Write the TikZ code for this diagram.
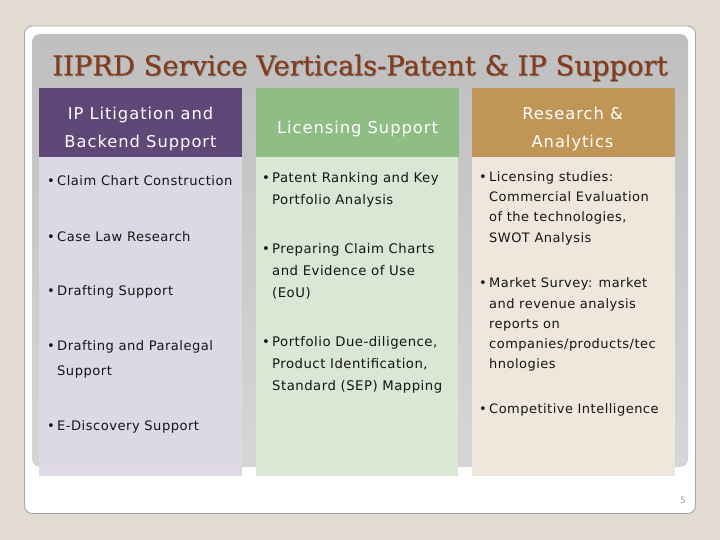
\documentclass[tikz,border=0pt]{standalone}
\usepackage{fontspec}
\setmainfont{DejaVu Sans}
\newfontfamily\titlefont[FakeBold=0.15]{DejaVu Serif}
\newfontfamily\headfont[LetterSpace=6]{DejaVu Sans}
\newfontfamily\itemfont[LetterSpace=3.7]{DejaVu Sans}
\definecolor{bgc}{HTML}{E3DCD2}
\definecolor{cardline}{HTML}{A5A5A0}
\definecolor{paneltop}{HTML}{BFBFBF}
\definecolor{panelbot}{HTML}{D6D6D6}
\definecolor{purpH}{HTML}{5F4778}
\definecolor{purpB}{HTML}{DDD8E6}
\definecolor{purpC}{HTML}{DFD9E7}
\definecolor{greenH}{HTML}{8EBE84}
\definecolor{greenB}{HTML}{D9E7D5}
\definecolor{greenC}{HTML}{DAE8D6}
\definecolor{brownH}{HTML}{C09555}
\definecolor{brownB}{HTML}{EFE6DC}
\definecolor{brownC}{HTML}{F0E7DD}
\definecolor{titlec}{HTML}{843C1C}
\definecolor{titles}{HTML}{8F8F8F}
\definecolor{textc}{HTML}{151515}
\newcommand{\bul}{\makebox[10pt][l]{•}}
\tikzset{
  x=1pt,y=-1pt,
  headtxt/.style={text=white,font=\headfont\fontsize{16.3}{18}\selectfont,inner sep=0,text height=15,text depth=3,anchor=center},
  item/.style={text=textc,font=\itemfont\fontsize{13}{15}\selectfont,inner sep=0,text height=13,text depth=3,anchor=west},
  itema/.style={item,font=\itemfont\fontsize{13.1}{15}\selectfont},
  itemb/.style={item,font=\itemfont\fontsize{13.25}{15}\selectfont},
  titletxt/.style={font=\titlefont\fontsize{27.4}{30}\selectfont,inner sep=0,text height=24,text depth=5.4,anchor=center}
}
\begin{document}
\begin{tikzpicture}
\useasboundingbox (0,0) rectangle (720,540);
\fill[bgc] (0,0) rectangle (720,540);
\draw[cardline,fill=white,rounded corners=8,line width=0.8] (24.5,26) rectangle (695.5,513.5);
\shade[top color=paneltop,bottom color=panelbot,rounded corners=8] (32,34) rectangle (688,467);
% columns
\fill[purpC] (39,467) rectangle (242,476);
\fill[greenC] (256,467) rectangle (458,476);
\fill[brownC] (472,467) rectangle (675,476);
\fill[purpB] (39,157) rectangle (242,467);
\fill[greenB] (256,157) rectangle (458,467);
\fill[brownB] (472,157) rectangle (675,467);
\fill[purpH] (39,88) rectangle (242,157);
\fill[greenH] (256,88) rectangle (459,157);
\fill[brownH] (472,88) rectangle (675,157);
% title
\node[titletxt,text=titles] (titleshadow) at (360.8,66.8) {IIPRD Service Verticals-Patent \& IP Support};
\node[titletxt,text=titlec] (title) at (360,66) {IIPRD Service Verticals-Patent \& IP Support};
% headers
\node[headtxt] (h1a) at (140.5,114) {IP Litigation and};
\node[headtxt] (h1b) at (140.5,142) {Backend Support};
\node[headtxt] (h2) at (357.5,128) {Licensing Support};
\node[headtxt] (h3a) at (572.5,114) {Research \&};
\node[headtxt] (h3b) at (572.5,142) {Analytics};
% column 1
\node[itema] (a1) at (47,181) {\bul Claim Chart Construction};
\node[itema] (a2) at (47,236) {\bul Case Law Research};
\node[itema] (a3) at (47,290) {\bul Drafting Support};
\node[itema] (a4) at (47,345) {\bul Drafting and Paralegal};
\node[itema] (a5) at (57,370) {Support};
\node[itema] (a6) at (47,425) {\bul E-Discovery Support};
% column 2
\node[itemb] (b1) at (262,178) {\bul Patent Ranking and Key};
\node[itemb] (b2) at (272,200) {Portfolio Analysis};
\node[itemb] (b3) at (262,249) {\bul Preparing Claim Charts};
\node[itemb] (b4) at (272,270) {and Evidence of Use};
\node[itemb] (b5) at (272,292) {(EoU)};
\node[itemb] (b6) at (262,341) {\bul Portfolio Due-diligence,};
\node[itemb] (b7) at (272,363) {Product Identification,};
\node[itemb] (b8) at (272,385) {Standard (SEP) Mapping};
% column 3
\node[item] (c1) at (479,177) {\bul Licensing studies:};
\node[item] (c2) at (489,197) {Commercial Evaluation};
\node[item] (c3) at (489,217) {of the technologies,};
\node[item] (c4) at (489,237) {SWOT Analysis};
\node[item] (c5) at (479,282) {\bul Market Survey: market};
\node[item] (c6) at (489,303) {and revenue analysis};
\node[item] (c7) at (489,323) {reports on};
\node[item] (c8) at (489,343) {companies/products/tec};
\node[item] (c9) at (489,363) {hnologies};
\node[item] (c10) at (479,408) {\bul Competitive Intelligence};
% page number
\node[text=gray!70,font=\fontsize{9}{10}\selectfont,inner sep=0] (pg) at (683,500) {5};
\end{tikzpicture}
\end{document}
